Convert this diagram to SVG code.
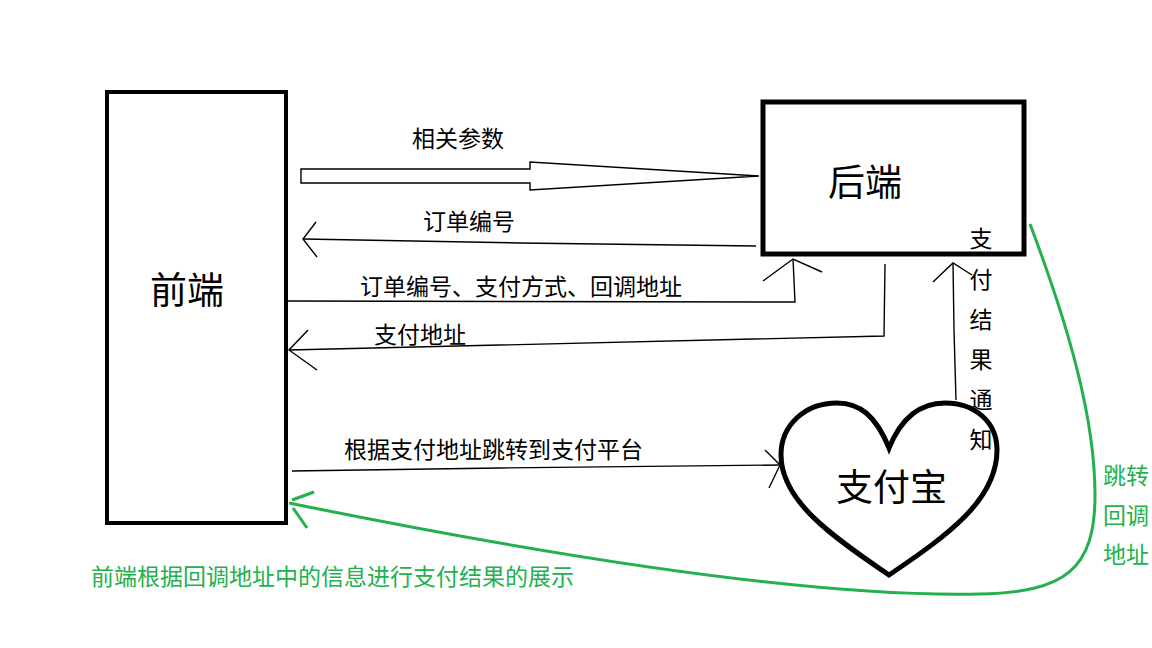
<svg xmlns="http://www.w3.org/2000/svg" width="1152" height="648" viewBox="0 0 1152 648">
<style>
.box{fill:none;stroke:#000}
.ln{fill:none;stroke:#000;stroke-width:1.4}
.t{font-family:"Noto Sans CJK SC","Noto Sans",sans-serif;font-size:23px;fill:#000}
.big{font-size:37px}
.g{fill:#22b14c}
.gl{fill:none;stroke:#22b14c;stroke-width:3}
</style>
<rect width="1152" height="648" fill="#fff"/>
<g id="frontend">
<rect class="box" x="107" y="92" width="179" height="431" stroke-width="4"/>
<text class="t big" x="150" y="304">前端</text>
</g>
<g id="backend">
<rect class="box" x="763" y="102" width="261" height="152" stroke-width="5"/>
<text class="t big" x="828" y="196">后端</text>
</g>
<g id="alipay">
<path class="box" stroke-width="5" d="M889,448 C876,416 860,403 837,403 C805,403 781,425 781,455 C781,500 830,535 889,575 C948,535 997,500 997,450 C997,422 975,403 945,403 C922,403 902,416 889,448 Z"/>
<text class="t big" x="836" y="501">支付宝</text>
</g>
<g id="connectors">
<polygon class="ln" points="301,169 530,169 530,162 759,176 530,190 530,183 301,183"/>
<polyline class="ln" points="756,246 520,243 303,239"/>
<polyline class="ln" points="316,222 303,239 317,257"/>
<polyline class="ln" points="288,301 795,302 793,259"/>
<polyline class="ln" points="763,281 793,259 822,272"/>
<polyline class="ln" points="885,264 884,336 289,350"/>
<polyline class="ln" points="308,330 289,350 317,370"/>
<polyline class="ln" points="292,471 500,468 780,465"/>
<polyline class="ln" points="765,450 780,465 769,488"/>
<polyline class="ln" points="956,400 954,330 953,263"/>
<polyline class="ln" points="933,282 953,263 972,275"/>
<path class="gl" d="M1030,224 C1070,330 1095,420 1095,495 C1095,570 1065,592 980,594 C800,598 520,550 289,503"/>
<polyline class="gl" points="314,492 292,500"/>
<polyline class="gl" points="293,508 307,528"/>
</g>
<g id="labels">
<text class="t" x="412" y="147">相关参数</text>
<text class="t" x="423" y="230">订单编号</text>
<text class="t" x="360" y="295">订单编号、支付方式、回调地址</text>
<text class="t" x="374" y="343">支付地址</text>
<text class="t" x="344" y="458">根据支付地址跳转到支付平台</text>
<g text-anchor="middle">
<text class="t" x="981" y="247">支</text>
<text class="t" x="981" y="288">付</text>
<text class="t" x="981" y="328">结</text>
<text class="t" x="981" y="368">果</text>
<text class="t" x="981" y="408">通</text>
<text class="t" x="981" y="448">知</text>
</g>
<text class="t g" x="1103" y="484">跳转</text>
<text class="t g" x="1103" y="524">回调</text>
<text class="t g" x="1103" y="563">地址</text>
<text class="t g" x="91" y="585">前端根据回调地址中的信息进行支付结果的展示</text>
</g>
</svg>
